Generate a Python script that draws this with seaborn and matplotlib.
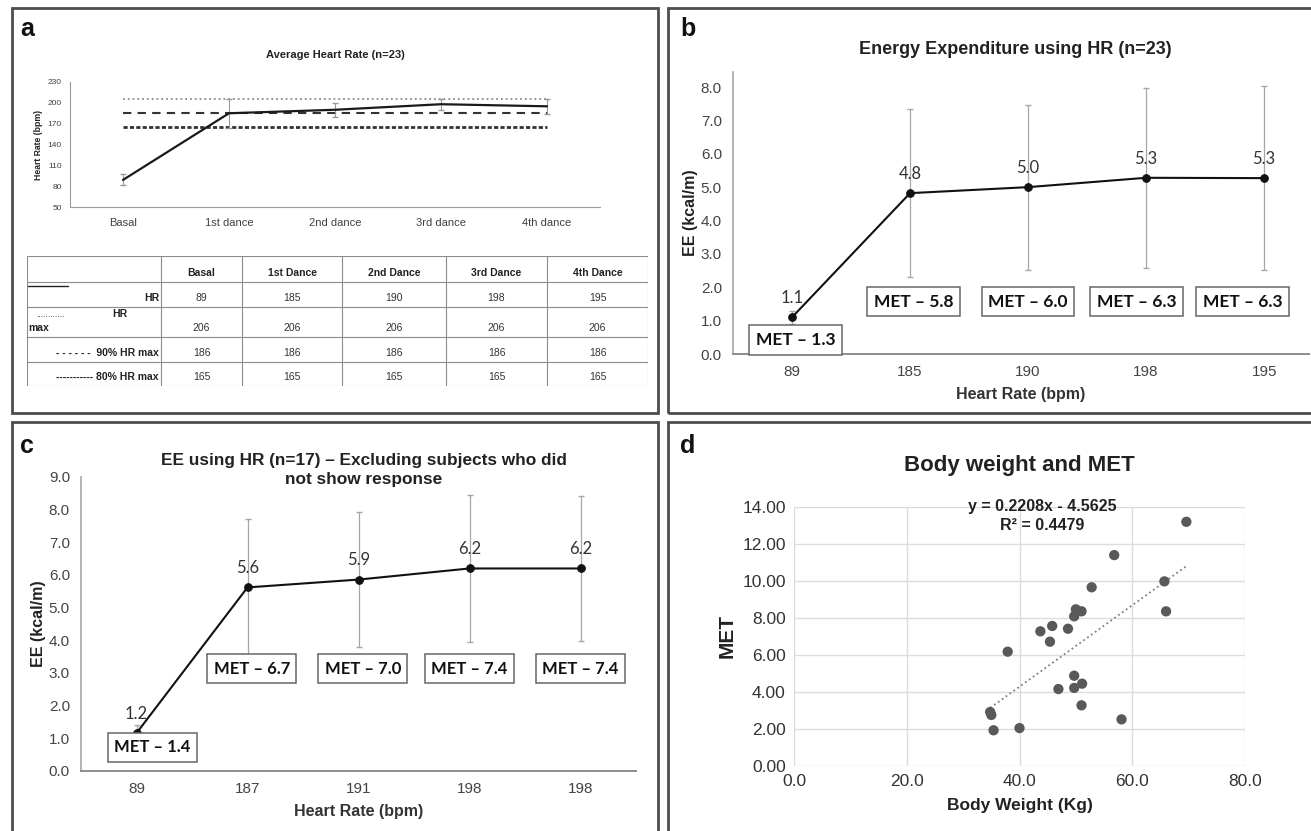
import numpy as np
import pandas as pd
import matplotlib
matplotlib.use('Agg')
import matplotlib.pyplot as plt
import seaborn as sns
from matplotlib.patches import Rectangle

# ---- panel a: average heart rate ----
stages = ['Basal', '1st dance', '2nd dance', '3rd dance', '4th dance']
table_cols = ['Basal', '1st Dance', '2nd Dance', '3rd Dance', '4th Dance']
hr = [89, 185, 190, 198, 195]
hr_err = [8, 21, 10, 8, 11]
hr_max = [206, 206, 206, 206, 206]
hr_90 = [186, 186, 186, 186, 186]
hr_80 = [165, 165, 165, 165, 165]

# ---- panel b: EE using HR (n=23) ----
hr_b = ['89', '185', '190', '198', '195']
ee_b = [1.10, 4.82, 5.00, 5.28, 5.27]
ee_b_err = [0.20, 2.52, 2.47, 2.70, 2.75]
met_b = ['1.3', '5.8', '6.0', '6.3', '6.3']

# ---- panel c: EE using HR (n=17) ----
hr_c = ['89', '187', '191', '198', '198']
ee_c = [1.16, 5.62, 5.86, 6.20, 6.20]
ee_c_err = [0.25, 2.10, 2.07, 2.24, 2.23]
met_c = ['1.4', '6.7', '7.0', '7.4', '7.4']

# ---- panel d: body weight vs MET ----
weight = [69.6, 56.8, 65.7, 52.8, 50.0, 51.0, 66.0, 49.7, 45.8, 43.7, 48.6, 45.4,
          37.9, 49.7, 51.1, 46.9, 49.7, 51.0, 34.8, 35.0, 58.1, 35.4, 40.0]
met_d = [13.20, 11.40, 9.98, 9.66, 8.47, 8.36, 8.36, 8.09, 7.57, 7.28, 7.42, 6.72,
         6.18, 4.88, 4.45, 4.16, 4.22, 3.28, 2.92, 2.76, 2.52, 1.93, 2.05]

W, H = 1311, 831
sns.set_style('white')
plt.rcParams['font.family'] = ['Liberation Sans', 'DejaVu Sans']
fig = plt.figure(figsize=(W / 100, H / 100), dpi=100)


def px_axes(l, t, r, b):
    return fig.add_axes([l / W, 1 - b / H, (r - l) / W, (b - t) / H])


# panel frames
for l, t, r, b in [(12, 8, 658, 413), (668, 8, 1318, 413), (12, 422, 658, 840), (668, 422, 1318, 840)]:
    fig.patches.append(Rectangle((l / W, 1 - b / H), (r - l) / W, (b - t) / H, transform=fig.transFigure,
                                 fill=False, ec='#4d4d4d', lw=2))
for lab, x, y in [('a', 20, 29), ('b', 680, 29), ('c', 20, 446), ('d', 680, 446)]:
    fig.text(x / W, 1 - y / H, lab, fontsize=18, fontweight='bold', color='#111', va='center')

grey_txt = '#404040'

# ================= panel a =================
ax = px_axes(70, 82, 600, 207)
pos = np.arange(len(stages))
sns.lineplot(x=pos, y=hr_max, ax=ax, color='#8a8a8a', lw=1.3, linestyle=':')
sns.lineplot(x=pos, y=hr_90, ax=ax, color='#333', lw=1.5).lines[-1].set_dashes((4, 3))
sns.lineplot(x=pos, y=hr_80, ax=ax, color='#333', lw=2).lines[-1].set_dashes((1.5, 0.8))
ax.errorbar(pos, hr, yerr=hr_err, fmt='none', ecolor='#999', elinewidth=0.8, capsize=2)
sns.lineplot(x=pos, y=hr, ax=ax, color='#1a1a1a', lw=1.6)
ax.set_xlim(-0.5, 4.5)
ax.set_ylim(50, 230)
ax.set_yticks(range(50, 231, 30))
ax.set_xticks(pos)
ax.set_xticklabels(stages, fontsize=8, color=grey_txt)
ax.tick_params(axis='y', labelsize=6, colors=grey_txt, length=0, pad=6)
ax.tick_params(axis='x', length=0, pad=8)
ax.set_ylabel('Heart Rate (bpm)', fontsize=6.2, fontweight='bold', color='#222', labelpad=3)
ax.set_title('Average Heart Rate (n=23)', fontsize=8, fontweight='bold', color='#222', pad=17)
for s in ['top', 'right']:
    ax.spines[s].set_visible(False)
for s in ['left', 'bottom']:
    ax.spines[s].set_color('#999')
    ax.spines[s].set_linewidth(0.8)

# table
tab = px_axes(27, 256, 648, 386)
tab.set_xlim(27, 648)
tab.set_ylim(386, 256)
tab.axis('off')
col_edges = [27, 161, 242, 342, 446, 547, 648]
row_edges = [256, 282, 307, 337, 362, 386]
tab.vlines(col_edges, 256, 386, color='#8c8c8c', lw=0.8)
tab.hlines(row_edges, 27, 648, color='#8c8c8c', lw=0.8)
for i, name in enumerate(table_cols):
    cx = (col_edges[i + 1] + col_edges[i + 2]) / 2
    tab.text(cx, 278, name, ha='center', va='bottom', fontsize=7.5, fontweight='bold', color='#222')
    for val, yy in zip([hr[i], hr_max[i], hr_90[i], hr_80[i]], [303, 333, 358, 382]):
        tab.text(cx, yy, str(val), ha='center', va='bottom', fontsize=7.5, color='#333')
tab.plot([28, 68], [286, 286], color='#222', lw=1)
tab.text(159, 303, 'HR', ha='right', va='bottom', fontsize=7.5, fontweight='bold', color='#222')
tab.text(36, 319, '............', ha='left', va='bottom', fontsize=6, color='#222')
tab.text(112, 319, 'HR', ha='left', va='bottom', fontsize=7.5, fontweight='bold', color='#222')
tab.text(28, 333, 'max', ha='left', va='bottom', fontsize=7.5, fontweight='bold', color='#222')
tab.text(159, 358, '- - - - - -  90% HR max', ha='right', va='bottom', fontsize=7.5, fontweight='bold',
         color='#222')
tab.text(159, 382, '----------- 80% HR max', ha='right', va='bottom', fontsize=7.5, fontweight='bold',
         color='#222')


# ================= panels b and c =================
def ee_panel(ax, ticks, ee, err, mets, ylim, box_dx, box_y, title, title_size, title_xy, box_size):
    p = np.arange(len(ticks))
    ax.errorbar(p, ee, yerr=err, fmt='none', ecolor='#a6a6a6', elinewidth=0.9, capsize=2.5)
    sns.lineplot(x=p, y=ee, ax=ax, color='#111', lw=1.5, marker='o', markersize=5.5,
                 markeredgecolor='#111', markerfacecolor='#111')
    for i, v in enumerate(ee):
        ax.annotate(f'{v:.1f}', (p[i], v), xytext=(0, 8), textcoords='offset points', ha='center',
                    va='bottom', fontsize=12, family='Lato', color='#333')
    for i, m in enumerate(mets):
        ax.text(p[i] + box_dx[i], box_y[i], f'MET – {m}', ha='center', va='center', fontsize=box_size,
                fontweight='bold', family='Lato', color='#111',
                bbox=dict(boxstyle='square,pad=0.38', fc='white', ec='#666', lw=1.1))
    ax.set_xticks(p)
    ax.set_xticklabels(ticks)
    ax.set_ylim(*ylim)
    ax.set_yticks(np.arange(0, ylim[1] + 0.01, 1.0))
    ax.set_yticklabels([f'{t:.1f}' for t in np.arange(0, ylim[1] + 0.01, 1.0)])
    ax.tick_params(labelsize=11, colors='#444', length=0, pad=8)
    ax.set_xlabel('Heart Rate (bpm)', fontsize=11.5, fontweight='bold', color='#333', labelpad=6)
    ax.set_ylabel('EE (kcal/m)', fontsize=11.5, fontweight='bold', color='#222', labelpad=2)
    ax.set_title(title, fontsize=title_size, fontweight='bold', color='#222', x=title_xy[0], y=title_xy[1],
                 va='center', linespacing=1.35, pad=0)
    for s in ['top', 'right']:
        ax.spines[s].set_visible(False)
    ax.spines['left'].set_color('#a6a6a6')
    ax.spines['bottom'].set_color('#8c8c8c')
    ax.spines['left'].set_linewidth(1.2)
    ax.spines['bottom'].set_linewidth(1.4)


axb = px_axes(733, 72, 1309, 354)
ee_panel(axb, hr_b, ee_b, ee_b_err, met_b, (0, 8.45), [0.03, 0.03, 0.0, -0.08, -0.18],
         [0.42, 1.57, 1.57, 1.57, 1.57], 'Energy Expenditure using HR (n=23)', 13,
         (0.49, 1 + (72 - 49) / 282), 12.5)
axb.set_xlim(-0.5, 4.38)

axc = px_axes(81, 477, 636, 771)
ee_panel(axc, hr_c, ee_c, ee_c_err, met_c, (0, 9.0), [0.14, 0.04, 0.04, 0.0, 0.0],
         [0.72, 3.13, 3.13, 3.13, 3.13],
         'EE using HR (n=17) – Excluding subjects who did\nnot show response', 12.4,
         (0.51, 1 - (470 - 477) / 294), 12)
axc.set_xlim(-0.5, 4.5)

# ================= panel d =================
axd = px_axes(794, 507, 1245, 766)
df = pd.DataFrame({'weight': weight, 'met': met_d})
sns.regplot(data=df, x='weight', y='met', ax=axd, scatter=False, ci=None, truncate=True,
            line_kws=dict(color='#7f7f7f', lw=1.3, linestyle=':'))
sns.scatterplot(data=df, x='weight', y='met', ax=axd, color='#595959', s=55, edgecolor='none', zorder=3)
axd.set_xlim(0, 80)
axd.set_ylim(0, 14)
axd.set_xticks(np.arange(0, 81, 20))
axd.set_xticklabels([f'{t:.1f}' for t in np.arange(0, 81, 20)])
axd.set_yticks(np.arange(0, 14.1, 2))
axd.set_yticklabels([f'{t:.2f}' for t in np.arange(0, 14.1, 2)])
axd.grid(True, color='#dcdcdc', lw=1)
axd.set_axisbelow(True)
for s in axd.spines.values():
    s.set_visible(False)
axd.tick_params(labelsize=12.5, colors='#333', length=0, pad=6)
axd.set_xlabel('Body Weight (Kg)', fontsize=12.5, fontweight='bold', color='#222', labelpad=6)
axd.set_ylabel('MET', fontsize=15, fontweight='bold', color='#222', labelpad=4)
axd.set_title('Body weight and MET', fontsize=16, fontweight='bold', color='#222', pad=26)
axd.text(44, 13.5, 'y = 0.2208x - 4.5625\nR² = 0.4479', ha='center', va='center', fontsize=11.5,
         fontweight='bold', color='#222', linespacing=1.3)

fig.savefig('out.png', dpi=100)
